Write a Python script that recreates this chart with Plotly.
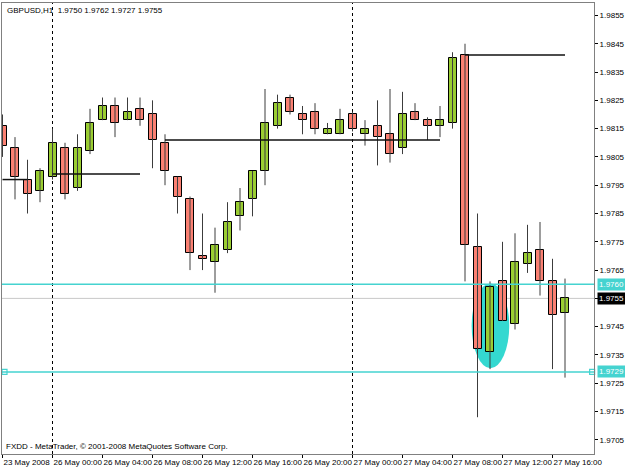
import plotly.graph_objects as go

# ---- data (hourly GBPUSD candles, index 0 = 23 May 20:00) ----
opens  = [1.9816, 1.9808, 1.9797, 1.9793, 1.9798, 1.9808, 1.9794, 1.9807, 1.9818, 1.9823,
          1.9818, 1.9822, 1.9820, 1.9810, 1.9798, 1.9790, 1.9770, 1.9768, 1.9772, 1.9784,
          1.9790, 1.9800, 1.9816, 1.9826, 1.9820, 1.9821, 1.9813, 1.9813, 1.9820, 1.9813,
          1.9816, 1.9813, 1.9808, 1.9821, 1.9818, 1.9816, 1.9817, 1.9841, 1.9773, 1.9736,
          1.9761, 1.9746, 1.9767, 1.9772, 1.9761, 1.9750]
highs  = [1.9820, 1.9812, 1.9804, 1.9801, 1.9815, 1.9810, 1.9813, 1.9822, 1.9826, 1.9826,
          1.9826, 1.9826, 1.9825, 1.9813, 1.9798, 1.9791, 1.9785, 1.9780, 1.9789, 1.9794,
          1.9800, 1.9829, 1.9827, 1.9827, 1.9823, 1.9824, 1.9817, 1.9822, 1.9821, 1.9818,
          1.9825, 1.9829, 1.9828, 1.9824, 1.9819, 1.9823, 1.9842, 1.9845, 1.9785, 1.9761,
          1.9775, 1.9778, 1.9781, 1.9782, 1.9769, 1.9762]
lows   = [1.9805, 1.9790, 1.9785, 1.9789, 1.9797, 1.9790, 1.9793, 1.9806, 1.9818, 1.9812,
          1.9818, 1.9816, 1.9801, 1.9795, 1.9785, 1.9765, 1.9765, 1.9757, 1.9771, 1.9779,
          1.9784, 1.9795, 1.9815, 1.9820, 1.9813, 1.9813, 1.9813, 1.9813, 1.9814, 1.9809,
          1.9802, 1.9803, 1.9806, 1.9818, 1.9811, 1.9812, 1.9815, 1.9761, 1.9713, 1.9730,
          1.9747, 1.9744, 1.9764, 1.9756, 1.9730, 1.9727]
closes = [1.9809, 1.9798, 1.9792, 1.9800, 1.9810, 1.9792, 1.9808, 1.9817, 1.9823, 1.9817,
          1.9821, 1.9818, 1.9811, 1.9800, 1.9791, 1.9771, 1.9769, 1.9774, 1.9782, 1.9789,
          1.9800, 1.9817, 1.9824, 1.9821, 1.9818, 1.9815, 1.9815, 1.9818, 1.9815, 1.9815,
          1.9812, 1.9806, 1.9820, 1.9818, 1.9816, 1.9818, 1.9840, 1.9774, 1.9737, 1.9759,
          1.9747, 1.9768, 1.9771, 1.9761, 1.9749, 1.9755]

tick_index  = [0, 4, 8, 12, 16, 20, 24, 28, 32, 36, 40, 44]
tick_labels = ["23 May 2008", "26 May 00:00", "26 May 04:00", "26 May 08:00", "26 May 12:00",
               "26 May 16:00", "26 May 20:00", "27 May 00:00", "27 May 04:00", "27 May 08:00",
               "27 May 12:00", "27 May 16:00"]
day_separators = [4, 28]

price_ticks = [1.9705, 1.9715, 1.9725, 1.9735, 1.9745, 1.9755, 1.9765, 1.9775,
               1.9785, 1.9795, 1.9805, 1.9815, 1.9825, 1.9835, 1.9845, 1.9855]

# session open segments: (start index, end index, price)
seg_start = [0, 4, 13, 37]
seg_end   = [2, 11, 35, 45]
seg_price = [1.9797, 1.9799, 1.9811, 1.9841]

cyan_levels = [1.9760, 1.9729]
bid_price = 1.9755

# highlighted zone (ellipse)
zone_x = [37.53, 40.54]
zone_y = [1.97303, 1.97603]

x_range = [-0.04, 47.32]
y_range = [1.9700, 1.98594]

BULL = "#9ACD32"
BEAR = "#FA8072"
CYAN = "#45D3D0"

idx = list(range(len(opens)))

fig = go.Figure()

# wicks
wx, wy = [], []
for i in idx:
    wx += [i, i, None]
    wy += [lows[i], highs[i], None]
fig.add_trace(go.Scatter(x=wx, y=wy, mode="lines", line=dict(color="#3c3c3c", width=1),
                         hoverinfo="skip", showlegend=False))

# bodies
base = [min(o, c) for o, c in zip(opens, closes)]
height = [max(abs(c - o), 0.00008) for o, c in zip(opens, closes)]
colors = [BULL if c >= o else BEAR for o, c in zip(opens, closes)]
fig.add_trace(go.Bar(x=idx, y=height, base=base, width=0.64,
                     marker=dict(color=colors, line=dict(color="#000000", width=1)),
                     showlegend=False))

# session lines
for s, e, p in zip(seg_start, seg_end, seg_price):
    fig.add_trace(go.Scatter(x=[s, e], y=[p, p], mode="lines",
                             line=dict(color="#111111", width=1.5), showlegend=False))

# bid line
fig.add_hline(y=bid_price, line=dict(color="#C8C8C8", width=1), layer="below")
# cyan levels
for lv in cyan_levels:
    fig.add_hline(y=lv, line=dict(color=CYAN, width=1.4), layer="above")

# small square handles on the lower level
fig.add_trace(go.Scatter(x=[x_range[0] + 0.2, x_range[1] - 0.15], y=[cyan_levels[1]] * 2,
                         mode="markers",
                         marker=dict(symbol="square", size=5, color="white",
                                     line=dict(color=CYAN, width=1.2)),
                         showlegend=False, cliponaxis=False))

# day separators
for d in day_separators:
    fig.add_vline(x=d, line=dict(color="#000000", width=1, dash="dot"), layer="below")

# ellipse
fig.add_shape(type="circle", xref="x", yref="y", x0=zone_x[0], x1=zone_x[1],
              y0=zone_y[0], y1=zone_y[1], fillcolor="#34D8D0", line=dict(width=0),
              layer="below")

FONT = "Liberation Sans, Arial, sans-serif"

# right-side price labels
for lv in cyan_levels:
    fig.add_annotation(x=1, xref="paper", y=lv, yref="y", xanchor="left", xshift=3,
                       text=f"{lv:.4f}", showarrow=False, bgcolor=CYAN, borderpad=1,
                       font=dict(family=FONT, size=8, color="white"))
fig.add_annotation(x=1, xref="paper", y=bid_price, yref="y", xanchor="left", xshift=3,
                   text=f"{bid_price:.4f}", showarrow=False, bgcolor="#000000", borderpad=1,
                   font=dict(family=FONT, size=8, color="white"))

# header and footer
fig.add_annotation(x=0, xref="paper", y=1, yref="paper", xanchor="left", yanchor="top",
                   xshift=3, yshift=-1,
                   text=f"GBPUSD,H1  {opens[-1]:.4f} {highs[-1]:.4f} {lows[-1]:.4f} {closes[-1]:.4f}",
                   showarrow=False, font=dict(family=FONT, size=8, color="black"))
fig.add_annotation(x=0, xref="paper", y=0, yref="paper", xanchor="left", yanchor="bottom",
                   xshift=2, yshift=1,
                   text="FXDD - MetaTrader, © 2001-2008 MetaQuotes Software Corp.",
                   showarrow=False, font=dict(family=FONT, size=8, color="black"))

fig.update_layout(
    width=625, height=469,
    margin=dict(l=2, r=31, t=3, b=15, autoexpand=False),
    paper_bgcolor="white", plot_bgcolor="white",
    bargap=0, showlegend=False,
    font=dict(family=FONT, size=8, color="black"),
    xaxis=dict(range=x_range, tickvals=tick_index, ticktext=tick_labels, tickangle=0,
               automargin=False,
               ticks="outside", ticklen=3, tickcolor="#000", showgrid=False, zeroline=False,
               showline=True, linecolor="#808080", mirror=True,
               ticklabelposition="outside right", tickfont=dict(size=8)),
    yaxis=dict(range=y_range, side="right", tickvals=price_ticks, automargin=False,
               ticktext=[f"{p:.4f}" for p in price_ticks],
               ticks="outside", ticklen=3, tickcolor="#000", showgrid=False, zeroline=False,
               showline=True, linecolor="#808080", mirror=True, tickfont=dict(size=8)),
)

fig.write_html("out.html")
